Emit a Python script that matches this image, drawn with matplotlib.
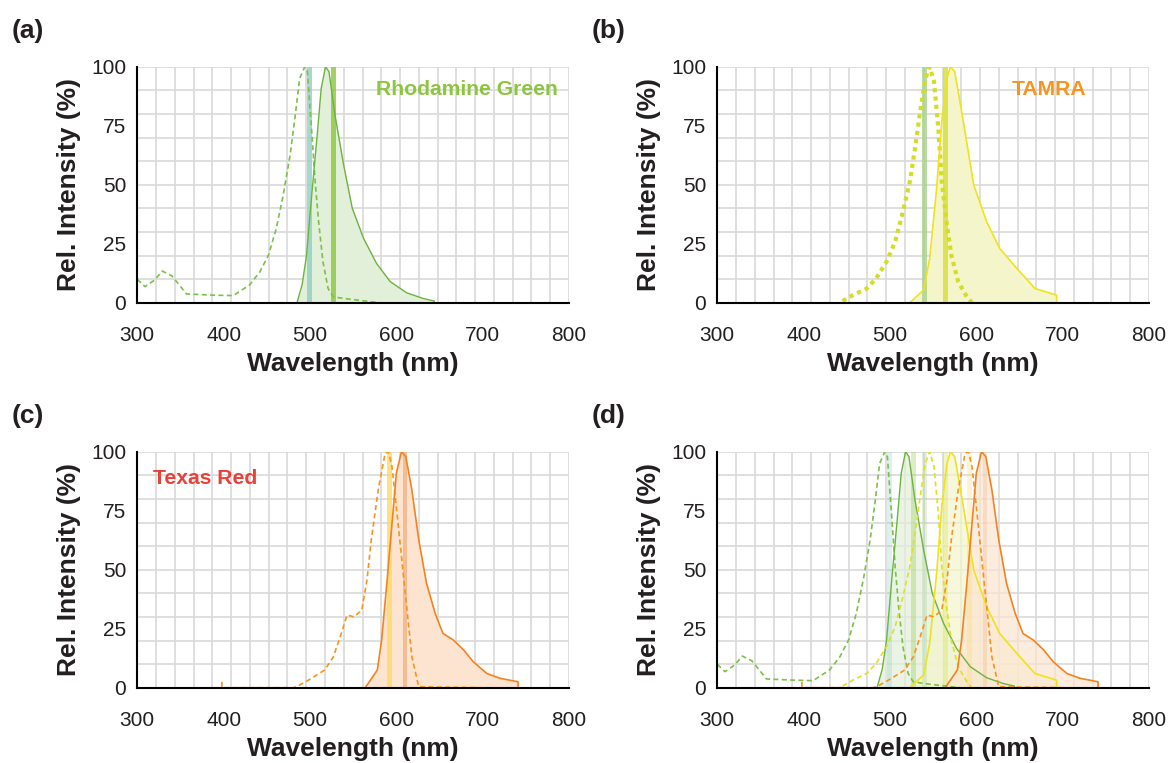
import numpy as np
import matplotlib
matplotlib.use("Agg")
import matplotlib.pyplot as plt

plt.rcParams['font.family'] = ['Liberation Sans', 'DejaVu Sans']

# ---- data ----
# Rhodamine Green
rg_ex_x = [300, 309, 320, 329, 340, 357, 388, 411, 430, 442, 452, 461, 469, 477, 483, 488, 494, 497,
           502, 506, 510, 515, 521, 527, 539, 562, 581]
rg_ex_y = [9.9, 6.8, 9.6, 13.4, 11.4, 3.7, 3.2, 3.0, 7.5, 13.1, 20.2, 31.5, 45.6, 62.6, 79.5, 95, 100, 97.9,
           72.5, 51.3, 34.3, 17.4, 6.0, 2.5, 1.8, 0.8, 0]
rg_em_x = [485, 491, 496, 502, 508, 513, 518, 522, 529, 539, 549, 562, 577, 593, 612, 631, 644, 644]
rg_em_y = [0, 7.8, 20, 45.6, 69.6, 90.8, 100, 97.9, 79.5, 58.3, 40, 27.3, 16.7, 8.9, 4.2, 1.8, 0.7, 0]

# TAMRA
ta_ex_x = [445, 457, 473, 484, 496, 506, 515, 523, 529, 535, 541, 546, 551, 556, 560, 566, 571, 579, 589, 595]
ta_ex_y = [0.7, 3.2, 6.0, 10.3, 17.4, 25.8, 38.6, 51.3, 65.4, 81, 95, 100, 93.6, 73.9, 51.3, 32.9, 20.2,
           8.9, 2.5, 0]
ta_em_x = [523, 539, 546, 554, 560, 566, 570, 575, 585, 597, 612, 627, 647, 668, 693, 693]
ta_em_y = [0, 5.4, 18.8, 48.4, 76.7, 95, 100, 97.9, 76.7, 49.9, 34.3, 23, 14.5, 6.0, 3.2, 0]

# Texas Red
tr_ex_x = [398, 398, 481, 488, 502, 517, 527, 535, 543, 551, 560, 566, 571, 579, 587, 591, 595, 600,
           606, 612, 618, 626, 700]
tr_ex_y = [2.5, 0, 0, 1.1, 4.0, 7.5, 13, 21.6, 30.8, 30, 32.9, 45.6, 62.6, 83.8, 99.3, 100, 93.6, 76.7,
           55.5, 34.3, 13.1, 0.4, 0]
tr_em_x = [564, 570, 578, 583, 589, 595, 600, 606, 611, 618, 626, 635, 645, 654, 666, 678, 689, 705,
           720, 741, 741]
tr_em_y = [0, 3.2, 7.5, 20.2, 44.2, 69.6, 90.8, 100, 97.9, 83.8, 62.6, 44.2, 31.5, 23, 20.2, 16, 11,
           6.0, 4.0, 2.5, 0]

# laser / filter lines (nm)
rg_lines = [499, 527]
ta_lines = [540, 564]
tr_lines = [592, 610]

x_ticks = [300, 400, 500, 600, 700, 800]
y_ticks = [0, 25, 50, 75, 100]

W, H = 1168, 763
fig = plt.figure(figsize=(W / 100, H / 100), dpi=100)


def make_axes(left_px, bottom_px):
    ax = fig.add_axes([left_px / W, 1 - bottom_px / H, 431.7 / W, 236 / H])
    ax.set_xlim(300, 800)
    ax.set_ylim(0, 100)
    for g in np.linspace(300, 800, 24):
        ax.axvline(g, color='#d9d9d9', lw=1.2, zorder=0)
    for g in range(10, 101, 10):
        ax.axhline(g, color='#d9d9d9', lw=1.2, zorder=0)
    ax.spines['top'].set_visible(False)
    ax.spines['right'].set_visible(False)
    ax.spines['left'].set_linewidth(1.5)
    ax.spines['bottom'].set_linewidth(1.5)
    ax.spines['left'].set_zorder(6)
    ax.spines['bottom'].set_zorder(6)
    ax.set_xticks(x_ticks)
    ax.set_yticks(y_ticks)
    ax.tick_params(axis='x', length=0, pad=17, labelsize=15, labelcolor='#231f20')
    ax.tick_params(axis='y', length=0, pad=8, labelsize=15, labelcolor='#231f20')
    ax.set_xlabel('Wavelength (nm)', fontsize=19, fontweight='bold', color='#231f20', labelpad=5)
    ax.set_ylabel('Rel. Intensity (%)', fontsize=19, fontweight='bold', color='#231f20')
    ax.yaxis.set_label_coords(-(137.3 - 81) / 431.7, 0.5)
    return ax


def bar(ax, c, color, alpha):
    ax.axvspan(c - 2.8, c + 2.8, color=color, alpha=alpha, lw=0, zorder=2)


def rhodamine(ax, alpha_bar=0.8, fill_alpha=1.0):
    ax.fill_between(rg_em_x, rg_em_y, color='#e2efd9', alpha=fill_alpha, lw=0, zorder=1)
    bar(ax, rg_lines[0], '#8fcfc4', alpha_bar)
    bar(ax, rg_lines[1], '#8cc63e', alpha_bar)
    ax.plot(rg_ex_x, rg_ex_y, color='#7cc04a', lw=1.2, ls=(0, (3, 2)), zorder=4)
    ax.plot(rg_em_x, rg_em_y, color='#6cb33f', lw=1.0, zorder=4)


def tamra(ax, alpha_bar=0.8, fill_alpha=1.0, dotted=True):
    ax.fill_between(ta_em_x, ta_em_y, color='#f5f5cc', alpha=fill_alpha, lw=0, zorder=1)
    bar(ax, ta_lines[0], '#a9d18e', alpha_bar)
    bar(ax, ta_lines[1], '#d6de3a', alpha_bar)
    if dotted:
        ax.plot(ta_ex_x, ta_ex_y, color='#d4dd26', lw=3, ls=(0, (1, 1)), zorder=4)
    else:
        ax.plot(ta_ex_x, ta_ex_y, color='#e0e020', lw=1.2, ls=(0, (3, 2)), zorder=4)
    ax.plot(ta_em_x, ta_em_y, color='#eee31c', lw=1.2, zorder=4)


def texas(ax, alpha_bar=0.8, fill_alpha=1.0):
    ax.fill_between(tr_em_x, tr_em_y, color='#fce4d0', alpha=fill_alpha, lw=0, zorder=1)
    bar(ax, tr_lines[0], '#ffd966', alpha_bar)
    bar(ax, tr_lines[1], '#f4b183', alpha_bar)
    ax.plot(tr_ex_x, tr_ex_y, color='#f7941d', lw=1.2, ls=(0, (3, 2)), zorder=4)
    ax.plot(tr_em_x, tr_em_y, color='#f58220', lw=1.2, zorder=4)


ax_a = make_axes(137.3, 302.7)
rhodamine(ax_a)
ax_a.text(0.975, 0.905, 'Rhodamine Green', transform=ax_a.transAxes, ha='right', va='center',
          fontsize=15.2, fontweight='bold', color='#8cc63e', zorder=7)

ax_b = make_axes(717.3, 302.7)
tamra(ax_b)
ax_b.text(0.768, 0.905, 'TAMRA', transform=ax_b.transAxes, ha='center', va='center',
          fontsize=15.2, fontweight='bold', color='#f7941d', zorder=7)

ax_c = make_axes(137.3, 687.7)
texas(ax_c)
ax_c.text(0.036, 0.886, 'Texas Red', transform=ax_c.transAxes, ha='left', va='center',
          fontsize=15.2, fontweight='bold', color='#e8413a', zorder=7)

ax_d = make_axes(717.3, 687.7)
rhodamine(ax_d, alpha_bar=0.3, fill_alpha=0.7)
tamra(ax_d, alpha_bar=0.3, fill_alpha=0.7, dotted=False)
texas(ax_d, alpha_bar=0.3, fill_alpha=0.7)

for lab, x, y in [('(a)', 12, 19), ('(b)', 592, 19), ('(c)', 12, 404), ('(d)', 592, 404)]:
    fig.text(x / W, 1 - y / H, lab, fontsize=19, fontweight='bold', color='#231f20', va='top', ha='left')

fig.savefig('out.png', dpi=100)
